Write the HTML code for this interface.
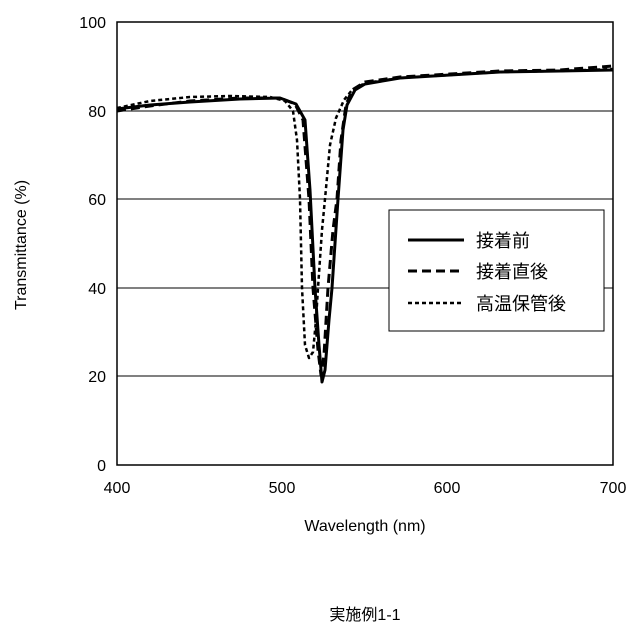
<!DOCTYPE html>
<html><head><meta charset="utf-8"><style>
html,body{margin:0;padding:0;background:#fff;overflow:hidden;}
svg{display:block;}
svg text{font-family:"Liberation Sans","Noto Sans CJK JP",sans-serif;fill:#000;}
</style></head><body>
<svg width="640" height="640" viewBox="0 0 640 640" xmlns="http://www.w3.org/2000/svg">
<g stroke="#000" stroke-width="1">
<line x1="117" y1="111" x2="613" y2="111"/>
<line x1="117" y1="199" x2="613" y2="199"/>
<line x1="117" y1="288" x2="613" y2="288"/>
<line x1="117" y1="376" x2="613" y2="376"/>
<rect x="117" y="22" width="496" height="443" fill="none" stroke-width="1.5"/>
</g>
<g font-size="16" text-anchor="end">
<text x="106" y="28">100</text><text x="106" y="117">80</text><text x="106" y="205">60</text>
<text x="106" y="294">40</text><text x="106" y="382">20</text><text x="106" y="471">0</text>
</g>
<g font-size="16" text-anchor="middle">
<text x="117" y="493">400</text><text x="282" y="493">500</text><text x="447" y="493">600</text><text x="613" y="493">700</text>
<text x="365" y="531">Wavelength (nm)</text>
<text x="365" y="620">実施例1-1</text>
<text transform="translate(26,245) rotate(-90)">Transmittance (%)</text>
</g>
<g fill="none" stroke="#000" stroke-width="3" stroke-linejoin="round">
<polyline points="117,109 150,105 190,102 240,99 280,98 296,104 305,120 310,190 315,288 319,345 322,382 325,370 329,320 332,288 338,199 343,130 347,105 355,90 365,84 400,78 450,75 500,72 560,71 613,70"/>
<polyline stroke-dasharray="9,5" points="117,111 150,106 190,101 240,98 280,98 295,104 303,120 309,199 313,288 318,350 321,375 324,355 328,288 333,230 337,199 341,140 346,105 352,90 365,82 400,77 450,74 500,71 560,70 613,66"/>
<polyline stroke-width="2.5" stroke-dasharray="4,3" points="117,108 150,101 190,97 230,96 270,97 285,101 293,111 297,140 300,199 302,288 305,345 309,358 313,352 316,320 318,288 322,230 325,199 330,145 336,118 344,100 352,90 365,83 400,78 450,75 500,72 560,71 613,69"/>
</g>
<rect x="389" y="210" width="215" height="121" fill="#fff" stroke="#000" stroke-width="1"/>
<g stroke="#000" stroke-width="3">
<line x1="408" y1="240" x2="464" y2="240"/>
<line x1="408" y1="271" x2="464" y2="271" stroke-dasharray="9,5"/>
<line x1="408" y1="303" x2="464" y2="303" stroke-width="2.5" stroke-dasharray="4,3"/>
</g>
<g font-size="18">
<text x="476" y="247">接着前</text>
<text x="476" y="278">接着直後</text>
<text x="476" y="310">高温保管後</text>
</g>
</svg>
</body></html>
